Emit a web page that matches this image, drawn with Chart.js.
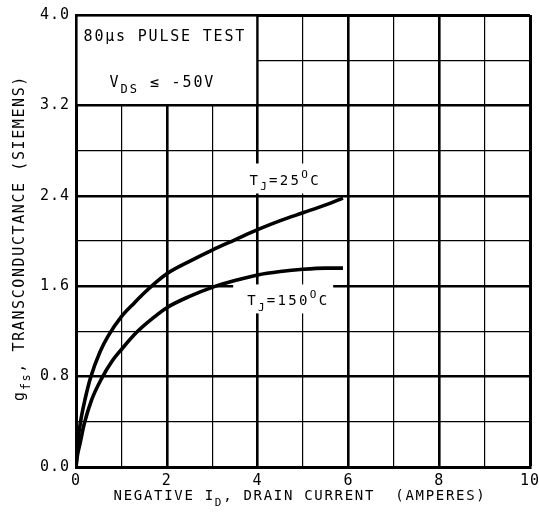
<!DOCTYPE html>
<html><head><meta charset="utf-8">
<script src="https://cdn.jsdelivr.net/npm/chart.js@4/dist/chart.umd.min.js"></script>
<style>html,body{margin:0;padding:0;background:#fff}#wrap{width:539px;height:521px;position:relative}</style>
</head><body><div id="wrap"><canvas id="c"></canvas></div>
<script>
// ---- data ----
const drainCurrent25 = [0, 0.04, 0.10, 0.20, 0.32, 0.53, 0.71, 1.0, 1.28, 1.5, 2.0, 2.5, 3.0, 3.5, 4.0, 4.5, 5.0, 5.5, 5.88];
const gfs25          = [0, 0.22, 0.40, 0.60, 0.79, 1.02, 1.16, 1.33, 1.45, 1.54, 1.71, 1.82, 1.92, 2.01, 2.10, 2.18, 2.25, 2.32, 2.38];
const drainCurrent150 = [0, 0.03, 0.09, 0.18, 0.34, 0.56, 0.8, 1.0, 1.33, 1.7, 2.0, 2.5, 3.0, 3.5, 4.0, 4.5, 5.0, 5.5, 5.88];
const gfs150          = [0, 0.10, 0.21, 0.38, 0.59, 0.78, 0.94, 1.04, 1.19, 1.32, 1.41, 1.51, 1.59, 1.65, 1.70, 1.73, 1.75, 1.76, 1.76];
const xTickLabels = ['0', '2', '4', '6', '8', '10'];
const yTickLabels = ['0.0', '0.8', '1.6', '2.4', '3.2', '4.0'];
const seriesNames = ['TJ=25°C', 'TJ=150°C'];

const FONT = '"DejaVu Sans Mono", "Liberation Mono", monospace';

function toPoints(xs, ys) { return xs.map((x, i) => ({ x: x, y: ys[i] })); }

function richWidth(ctx, parts, size, spacing) {
  let w = 0;
  ctx.letterSpacing = spacing + 'px';
  for (const [t, k] of parts) {
    const fs = k === 'n' ? size : Math.round(size * 0.8);
    ctx.font = fs + 'px ' + FONT;
    w += ctx.measureText(t).width;
  }
  return w;
}
function rich(ctx, parts, x, y, size, spacing, align) {
  const w = richWidth(ctx, parts, size, spacing);
  let cx = align === 'center' ? x - w / 2 : x;
  ctx.textAlign = 'left';
  ctx.textBaseline = 'alphabetic';
  for (const [t, k] of parts) {
    const fs = k === 'n' ? size : Math.round(size * 0.8);
    ctx.font = fs + 'px ' + FONT;
    const dy = k === 'sub' ? size * 0.42 : (k === 'sup' ? -size * 0.5 : 0);
    ctx.fillText(t, cx, y + dy);
    cx += ctx.measureText(t).width;
  }
}

const decorPlugin = {
  id: 'decor',
  beforeLayout(chart) { chart.ctx.letterSpacing = '1px'; },
  beforeDraw(chart) { chart.ctx.letterSpacing = '1px'; },
  beforeDatasetsDraw(chart) {
    const ctx = chart.ctx, xs = chart.scales.x, ys = chart.scales.y;
    ctx.save();
    ctx.fillStyle = '#fff';
    // test-condition box (upper left cell block)
    const bx0 = xs.getPixelForValue(0) + 1.6, bx1 = xs.getPixelForValue(4) - 1.4;
    const by0 = ys.getPixelForValue(4) + 1.6, by1 = ys.getPixelForValue(3.2) - 1.4;
    ctx.fillRect(bx0, by0, bx1 - bx0, by1 - by0);
    // label backgrounds
    const l25x = xs.getPixelForValue(3.82), l25y = ys.getPixelForValue(2.5);
    ctx.fillRect(l25x - 6, l25y - 21, 86, 30);
    const l150x = xs.getPixelForValue(3.77), l150y = ys.getPixelForValue(1.43);
    ctx.fillRect(l150x - 14, l150y - 21, 100, 29);
    ctx.fillStyle = '#000';
    rich(ctx, [['80μs PULSE TEST', 'n']], bx0 + 6, by0 + 24, 15, 1.8, 'left');
    rich(ctx, [['V', 'n'], ['DS', 'sub'], [' ≤ -50V', 'n']], bx0 + 32, by0 + 70, 15, 1.9, 'left');
    rich(ctx, [['T', 'n'], ['J', 'sub'], ['=25', 'n'], ['O', 'sup'], ['C', 'n']], l25x, l25y, 14, 2.3, 'left');
    rich(ctx, [['T', 'n'], ['J', 'sub'], ['=150', 'n'], ['O', 'sup'], ['C', 'n']], l150x, l150y, 14, 2.3, 'left');
    // axis titles
    rich(ctx, [['NEGATIVE I', 'n'], ['D', 'sub'], [', DRAIN CURRENT  (AMPERES)', 'n']], 300, 500, 14, 1.7, 'center');
    ctx.translate(24, 238);
    ctx.rotate(-Math.PI / 2);
    rich(ctx, [['g', 'n'], ['fs', 'sub'], [', TRANSCONDUCTANCE (SIEMENS)', 'n']], 0, 0, 15, 1.6, 'center');
    ctx.restore();
  }
};

const isMajorY = v => Math.round(v * 10) % 8 === 0;
const isMajorX = v => Math.round(v) % 2 === 0;

new Chart(document.getElementById('c'), {
  type: 'scatter',
  data: {
    datasets: [
      { label: seriesNames[0], data: toPoints(drainCurrent25, gfs25), showLine: true, borderColor: '#000', borderWidth: 3.6, pointRadius: 0, cubicInterpolationMode: 'monotone', fill: false },
      { label: seriesNames[1], data: toPoints(drainCurrent150, gfs150), showLine: true, borderColor: '#000', borderWidth: 3.6, pointRadius: 0, cubicInterpolationMode: 'monotone', fill: false }
    ]
  },
  options: {
    responsive: true,
    maintainAspectRatio: false,
    devicePixelRatio: 1,
    animation: false,
    layout: { padding: { left: 0, right: 9, top: 15, bottom: 0 } },
    plugins: { legend: { display: false }, tooltip: { enabled: false }, title: { display: false } },
    scales: {
      x: {
        type: 'linear', min: 0, max: 10,
        afterFit: s => { s.height = 54; s.paddingLeft = 0; s.paddingRight = 0; },
        ticks: {
          stepSize: 1, color: '#000', padding: 5, maxRotation: 0, autoSkip: false,
          font: { family: FONT, size: 15 },
          callback: v => xTickLabels.includes(String(v)) ? String(v) : ''
        },
        grid: {
          color: '#000', drawTicks: false,
          lineWidth: c => (c.tick && (c.tick.value === 10)) ? 3 : (c.tick && isMajorX(c.tick.value) ? 2.6 : 1.2)
        },
        border: { display: true, color: '#000', width: 3 }
      },
      y: {
        type: 'linear', min: 0, max: 4,
        afterFit: s => { s.width = 76; s.paddingTop = 0; s.paddingBottom = 0; },
        ticks: {
          stepSize: 0.4, color: '#000', padding: 6, autoSkip: false,
          font: { family: FONT, size: 15 },
          callback: v => { const s = (Math.round(v * 10) / 10).toFixed(1); return yTickLabels.includes(s) ? s : ''; }
        },
        grid: {
          color: '#000', drawTicks: false,
          lineWidth: c => (c.tick && Math.abs(c.tick.value - 4) < 1e-6) ? 3 : (c.tick && isMajorY(c.tick.value) ? 2.6 : 1.2)
        },
        border: { display: true, color: '#000', width: 3 }
      }
    }
  },
  plugins: [decorPlugin]
});
</script>
</body></html>
